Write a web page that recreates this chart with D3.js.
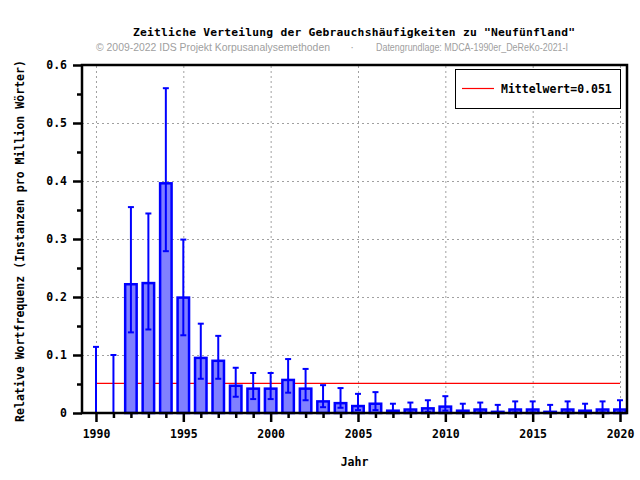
<!DOCTYPE html>
<html>
<head>
<meta charset="utf-8">
<script src="https://cdn.jsdelivr.net/npm/d3@7"></script>
<style>
  body { margin: 0; background: #fff; }
  svg { display: block; }
  .mono { font-family: "DejaVu Sans Mono", monospace; font-weight: bold; fill: #000; }
</style>
</head>
<body>
<div id="chart"></div>
<script>
var years = [1990, 1991, 1992, 1993, 1994, 1995, 1996, 1997, 1998, 1999, 2000,
             2001, 2002, 2003, 2004, 2005, 2006, 2007, 2008, 2009, 2010,
             2011, 2012, 2013, 2014, 2015, 2016, 2017, 2018, 2019, 2020];
var values = [0, 0, 0.222, 0.224, 0.396, 0.199, 0.095, 0.090, 0.047, 0.042, 0.042,
              0.057, 0.042, 0.020, 0.017, 0.012, 0.016, 0.004, 0.006, 0.008, 0.011,
              0.004, 0.006, 0.002, 0.006, 0.006, 0.002, 0.006, 0.004, 0.006, 0.006];
var errLow = [0, 0, 0.139, 0.144, 0.279, 0.134, 0.059, 0.059, 0.028, 0.024, 0.024,
              0.035, 0.022, 0.010, 0.009, 0.005, 0.005, 0.001, 0.001, 0.002, 0.004,
              0.001, 0.001, 0, 0.001, 0.001, 0, 0.001, 0.001, 0.001, 0.001];
var errHigh = [0.114, 0.100, 0.355, 0.344, 0.560, 0.299, 0.154, 0.133, 0.078, 0.069, 0.069,
               0.093, 0.076, 0.048, 0.043, 0.033, 0.036, 0.016, 0.018, 0.022, 0.029,
               0.016, 0.018, 0.014, 0.020, 0.020, 0.014, 0.020, 0.016, 0.020, 0.022];
var meanValue = 0.051;
var yTicks = [0, 0.1, 0.2, 0.3, 0.4, 0.5, 0.6];
var yMinorTicks = [0.05, 0.15, 0.25, 0.35, 0.45, 0.55];
var xTicks = [1990, 1995, 2000, 2005, 2010, 2015, 2020];

function drawChart() {
    var W = 640, H = 480;
    var margin = {top: 65, right: 13, bottom: 67, left: 82};
    var width = W - margin.left - margin.right;
    var height = H - margin.top - margin.bottom;

    var svg = d3.select("#chart").append("svg")
        .attr("width", W).attr("height", H);

    var g = svg.append("g")
        .attr("transform", "translate(" + margin.left + "," + margin.top + ")");

    var x = d3.scaleLinear().domain([1989.2, 2020.4]).range([0, width]);
    var y = d3.scaleLinear().domain([0, 0.6]).range([height, 0]);
    var step = x(1991) - x(1990);

    // grid
    g.append("g")
        .call(d3.axisLeft(y).tickValues(yTicks.slice(1, -1)).tickSize(-width).tickFormat(""))
        .call(function(s) { s.select(".domain").remove(); })
        .selectAll("line")
        .attr("stroke", "#a0a0a0").attr("stroke-dasharray", "2,3");
    g.append("g")
        .attr("transform", "translate(0," + height + ")")
        .call(d3.axisBottom(x).tickValues(xTicks).tickSize(-height).tickFormat(""))
        .call(function(s) { s.select(".domain").remove(); })
        .selectAll("line")
        .attr("stroke", "#a0a0a0").attr("stroke-dasharray", "2,3");

    // mean line
    g.append("line")
        .attr("x1", x(years[0])).attr("x2", x(years[years.length - 1]))
        .attr("y1", y(meanValue)).attr("y2", y(meanValue))
        .attr("stroke", "#ff0000").attr("stroke-width", 1.2);

    var data = years.map(function(yr, i) {
        return {year: yr, v: values[i], lo: errLow[i], hi: errHigh[i]};
    });

    var sw = 2.5;
    var bw = step * 0.8 - sw;
    g.selectAll(".bar")
        .data(data.filter(function(d) { return d.v > 0; }))
        .enter().append("rect")
        .attr("class", "bar")
        .attr("x", function(d) { return x(d.year) - bw / 2; })
        .attr("y", function(d) { return y(d.v); })
        .attr("width", bw)
        .attr("height", function(d) { return y(0) - y(d.v); })
        .attr("fill", "#8080ff")
        .attr("stroke", "#0000ff")
        .attr("stroke-width", sw);

    // error bars
    var eb = g.selectAll(".err").data(data).enter().append("g").attr("class", "err")
        .attr("stroke", "#0000ff").attr("stroke-width", 2);
    eb.append("line")
        .attr("x1", function(d) { return x(d.year); })
        .attr("x2", function(d) { return x(d.year); })
        .attr("y1", function(d) { return y(d.lo); })
        .attr("y2", function(d) { return y(d.hi); });
    eb.append("line")
        .attr("x1", function(d) { return x(d.year) - 3; })
        .attr("x2", function(d) { return x(d.year) + 3; })
        .attr("y1", function(d) { return y(d.hi); })
        .attr("y2", function(d) { return y(d.hi); });
    eb.append("line")
        .attr("x1", function(d) { return x(d.year) - 3; })
        .attr("x2", function(d) { return x(d.year) + 3; })
        .attr("y1", function(d) { return y(d.lo); })
        .attr("y2", function(d) { return y(d.lo); });

    // frame
    g.append("rect")
        .attr("x", 0).attr("y", 0).attr("width", width).attr("height", height)
        .attr("fill", "none").attr("stroke", "#000").attr("stroke-width", 2.5);

    // axes
    var yAxis = g.append("g")
        .call(d3.axisLeft(y).tickValues(yTicks).tickSize(9).tickPadding(6)
            .tickFormat(function(d) { return d === 0 ? "0" : d3.format(".1f")(d); }));
    yAxis.select(".domain").remove();
    yAxis.selectAll("line").attr("stroke", "#000").attr("stroke-width", 2.5);
    yAxis.selectAll("text").attr("class", "mono").style("font-size", "11.5px");

    var yMinor = g.append("g")
        .call(d3.axisLeft(y).tickValues(yMinorTicks).tickSize(5).tickFormat(""));
    yMinor.select(".domain").remove();
    yMinor.selectAll("line").attr("stroke", "#000").attr("stroke-width", 2.5);

    var xAxis = g.append("g")
        .attr("transform", "translate(0," + height + ")")
        .call(d3.axisBottom(x).tickValues(xTicks).tickSize(9).tickPadding(8).tickFormat(d3.format("d")));
    xAxis.select(".domain").remove();
    xAxis.selectAll("line").attr("stroke", "#000").attr("stroke-width", 2.5);
    xAxis.selectAll("text").attr("class", "mono").style("font-size", "11.5px");

    var xMinor = g.append("g")
        .attr("transform", "translate(0," + height + ")")
        .call(d3.axisBottom(x).tickValues(years.filter(function(yr) { return xTicks.indexOf(yr) < 0; }))
            .tickSize(5).tickFormat(""));
    xMinor.select(".domain").remove();
    xMinor.selectAll("line").attr("stroke", "#000").attr("stroke-width", 2.5);

    // legend
    var lg = g.append("g").attr("transform", "translate(" + (width - 172) + ",4)");
    lg.append("rect")
        .attr("x", 0.5).attr("y", 0.5).attr("width", 165).attr("height", 39)
        .attr("fill", "#fff").attr("stroke", "#000").attr("stroke-width", 1);
    lg.append("line")
        .attr("x1", 7).attr("x2", 39).attr("y1", 19.5).attr("y2", 19.5)
        .attr("stroke", "#ff0000").attr("stroke-width", 1.2);
    lg.append("text").attr("class", "mono")
        .attr("x", 46).attr("y", 24)
        .style("font-size", "11.5px")
        .text("Mittelwert=" + meanValue.toFixed(3));

    // titles
    svg.append("text").attr("class", "mono")
        .attr("x", 354).attr("y", 36)
        .attr("text-anchor", "middle")
        .style("font-size", "11.3px")
        .attr("textLength", 442).attr("lengthAdjust", "spacing")
        .text("Zeitliche Verteilung der Gebrauchshäufigkeiten zu \"Neufünfland\"");

    var sub = svg.append("g")
        .style("font-family", "'Liberation Sans', Arial, sans-serif")
        .style("font-size", "11px")
        .style("fill", "#a0a0a0");
    sub.append("text").attr("x", 96).attr("y", 51)
        .attr("textLength", 234).attr("lengthAdjust", "spacingAndGlyphs")
        .text("© 2009-2022 IDS Projekt Korpusanalysemethoden");
    sub.append("text").attr("x", 352).attr("y", 51).attr("text-anchor", "middle").text("·");
    sub.append("text").attr("x", 376).attr("y", 51)
        .attr("textLength", 192).attr("lengthAdjust", "spacingAndGlyphs")
        .text("Datengrundlage: MDCA-1990er_DeReKo-2021-I");

    svg.append("text").attr("class", "mono")
        .attr("x", margin.left + width / 2).attr("y", 466)
        .attr("text-anchor", "middle")
        .style("font-size", "11.5px")
        .text("Jahr");

    svg.append("text").attr("class", "mono")
        .attr("transform", "translate(24," + (margin.top + height / 2 + 2) + ") rotate(-90)")
        .attr("text-anchor", "middle")
        .style("font-size", "11.5px")
        .attr("textLength", 362).attr("lengthAdjust", "spacing")
        .text("Relative Wortfrequenz (Instanzen pro Million Wörter)");
}

drawChart();
</script>
</body>
</html>
